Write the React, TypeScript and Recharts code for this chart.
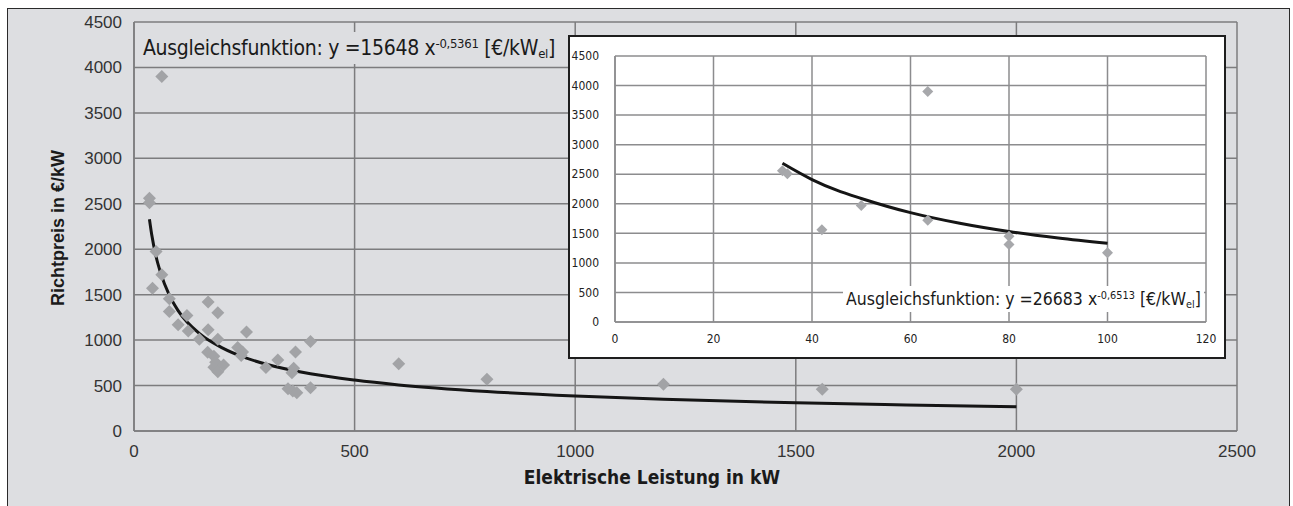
import { ComposedChart, Scatter, Line, XAxis, YAxis, CartesianGrid } from 'recharts';

// Hauptdiagramm: Anlagen (elektrische Leistung kW / Richtpreis €/kW)
const leistungKW = [
  35, 35, 63, 42, 50, 63, 80, 80, 100, 120, 123, 148, 168, 190, 168, 190, 167, 181, 185, 181,
  190, 203, 235, 246, 243, 255, 299, 326, 366, 362, 358, 349, 360, 369, 400, 400, 600, 800,
  1200, 1560, 2000,
];
const richtpreis = [
  2560, 2510, 3900, 1570, 1975, 1720, 1455, 1315, 1170, 1270, 1100, 1010, 1420, 1300, 1115, 1010, 867, 822, 756, 701,
  652, 726, 920, 870, 830, 1090, 700, 780, 870, 690, 640, 465, 440, 420, 985, 475, 740, 570,
  515, 460, 460,
];

// Ausgleichskurve
const kurveX = [35, 40, 50, 60, 80, 100, 150, 200, 250, 300, 400, 500, 600, 800, 1000, 1200, 1500, 1750, 2000];
const kurveY = [2330, 2165, 1920, 1745, 1495, 1325, 1065, 915, 810, 735, 630, 560, 507, 435, 386, 350, 310, 286, 266];

// Einschub: kleine Anlagen bis 100 kW
const kleinKW = [34, 35, 42, 50, 63.5, 63.5, 80, 80, 100];
const kleinPreis = [2560, 2510, 1560, 1970, 1720, 3900, 1450, 1310, 1170];
const kleinKurveX = [34, 40, 45, 50, 60, 70, 80, 90, 100];
const kleinKurveY = [2685, 2410, 2230, 2090, 1850, 1670, 1530, 1420, 1330];

const mainTicksX = [0, 500, 1000, 1500, 2000, 2500];
const mainTicksY = [0, 500, 1000, 1500, 2000, 2500, 3000, 3500, 4000, 4500];
const insetTicksX = [0, 20, 40, 60, 80, 100, 120];
const insetTicksY = [0, 500, 1000, 1500, 2000, 2500, 3000, 3500, 4000, 4500];

const anlagen = leistungKW.map((x, i) => ({ x, y: richtpreis[i] }));
const ausgleich = kurveX.map((x, i) => ({ x, y: kurveY[i] }));
const kleinAnlagen = kleinKW.map((x, i) => ({ x, y: kleinPreis[i] }));
const ausgleichKlein = kleinKurveX.map((x, i) => ({ x, y: kleinKurveY[i] }));

const narrow = '"Liberation Sans Narrow", "DejaVu Sans Condensed", "DejaVu Sans", sans-serif';

const diamond = (r: number, fill: string) => (props: any) => {
  const { cx, cy } = props;
  if (cx == null || cy == null) return <g />;
  return <polygon points={`${cx},${cy - r} ${cx + r},${cy} ${cx},${cy + r} ${cx - r},${cy}`} fill={fill} />;
};

function Formel({ a, b }: { a: string; b: string }) {
  return (
    <span>
      Ausgleichsfunktion: y ={a} x<sup style={{ fontSize: '0.62em', verticalAlign: '0.55em', lineHeight: 0 }}>{b}</sup>
      {' '}[€/kW<sub style={{ fontSize: '0.62em', verticalAlign: '-0.25em', lineHeight: 0 }}>el</sub>]
    </span>
  );
}

export default function App() {
  return (
    <div style={{ position: 'fixed', left: 0, top: 0, width: 1293, height: 506, overflow: 'hidden', background: '#fff' }}>
      <div
        style={{
          position: 'absolute', left: 7, top: 8, width: 1283, height: 520, boxSizing: 'border-box',
          border: '1.5px solid #2a2a2a', background: '#dddee1',
        }}
      />
      <div style={{ position: 'absolute', left: 0, top: 0 }}>
        <ComposedChart width={1293} height={506} margin={{ top: 22, right: 56, bottom: 45, left: 74 }}>
          <CartesianGrid stroke="#7c7c7e" strokeWidth={1.5} />
          <XAxis
            type="number" dataKey="x" domain={[0, 2500]} ticks={mainTicksX} tickLine={false}
            axisLine={{ stroke: '#7c7c7e', strokeWidth: 1.5 }} height={30} tickMargin={8}
            tick={{ fill: '#333', fontSize: 17, fontFamily: '"Liberation Sans", sans-serif' }}
          />
          <YAxis
            type="number" dataKey="y" domain={[0, 4500]} ticks={mainTicksY} tickLine={false}
            axisLine={{ stroke: '#7c7c7e', strokeWidth: 1.5 }} width={60} tickMargin={6}
            tick={{ fill: '#333', fontSize: 17, fontFamily: '"Liberation Sans", sans-serif' }}
          />
          <Scatter data={anlagen} shape={diamond(6.5, '#a2a3a6')} isAnimationActive={false} />
          <Line
            data={ausgleich} dataKey="y" type="monotone" stroke="#151515" strokeWidth={3}
            dot={false} activeDot={false} isAnimationActive={false}
          />
        </ComposedChart>
      </div>
      <div
        style={{
          position: 'absolute', left: 139, top: 32, padding: '0 4px', background: '#dddee1', color: '#1a1a1a',
          fontFamily: narrow, fontSize: 21, letterSpacing: -0.3, lineHeight: '32px', whiteSpace: 'nowrap',
        }}
      >
        <Formel a="15648" b="-0,5361" />
      </div>
      <div
        style={{
          position: 'absolute', left: 58, top: 228, transform: 'translate(-50%, -50%) rotate(-90deg)',
          fontFamily: '"Liberation Sans", sans-serif', fontWeight: 'bold', fontSize: 18, color: '#1a1a1a', whiteSpace: 'nowrap',
        }}
      >
        Richtpreis in €/kW
      </div>
      <div
        style={{
          position: 'absolute', left: 652, top: 477, transform: 'translate(-50%, -50%)',
          fontFamily: narrow, fontWeight: 'bold', fontSize: 19, color: '#1a1a1a', whiteSpace: 'nowrap',
        }}
      >
        Elektrische Leistung in kW
      </div>

      <div
        style={{
          position: 'absolute', left: 568, top: 35, width: 658, height: 324, boxSizing: 'border-box',
          border: '2px solid #1e1e1e', background: '#fff',
        }}
      >
        <ComposedChart width={654} height={320} margin={{ top: 19, right: 18, bottom: 5, left: 0 }}>
          <CartesianGrid stroke="#8c8c8e" strokeWidth={1.5} />
          <XAxis
            type="number" dataKey="x" domain={[0, 120]} ticks={insetTicksX} tickLine={false}
            axisLine={{ stroke: '#8c8c8e', strokeWidth: 1.5 }} height={30} tickMargin={6}
            tick={{ fill: '#222', fontSize: 12, fontFamily: narrow }}
          />
          <YAxis
            type="number" dataKey="y" domain={[0, 4500]} ticks={insetTicksY} tickLine={false}
            axisLine={{ stroke: '#8c8c8e', strokeWidth: 1.5 }} width={45} tickMargin={10}
            tick={{ fill: '#222', fontSize: 12, fontFamily: narrow }}
          />
          <Scatter data={kleinAnlagen} shape={diamond(5.5, '#a7a8ab')} isAnimationActive={false} />
          <Line
            data={ausgleichKlein} dataKey="y" type="monotone" stroke="#151515" strokeWidth={3}
            dot={false} activeDot={false} isAnimationActive={false}
          />
        </ComposedChart>
        <div
          style={{
            position: 'absolute', left: 273, top: 249, padding: '0 3px', background: '#fff', color: '#1a1a1a',
            fontFamily: narrow, fontSize: 17.5, lineHeight: '26px', whiteSpace: 'nowrap',
          }}
        >
          <Formel a="26683" b="-0,6513" />
        </div>
      </div>
    </div>
  );
}
